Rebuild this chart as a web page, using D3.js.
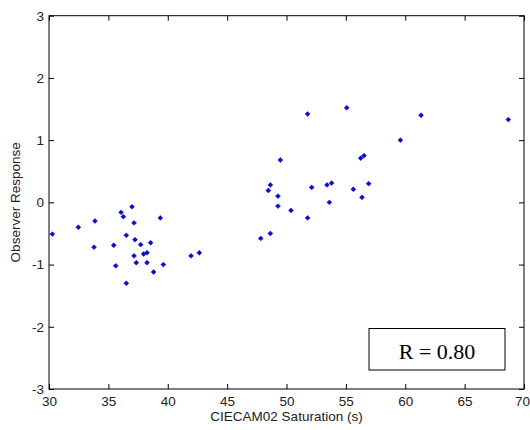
<!DOCTYPE html>
<html>
<head>
<meta charset="utf-8">
<script src="https://cdn.jsdelivr.net/npm/d3@7"></script>
<style>
  body { margin: 0; background: #fff; }
  svg { display: block; }
</style>
</head>
<body>
<svg id="viz"></svg>
<script>
// CIECAM02 saturation vs observer response
var satX = [30.28, 32.47, 33.87, 33.79, 35.45, 35.62, 36.07, 36.26, 36.99, 37.16,
	36.51, 37.24, 37.72, 37.16, 37.35, 36.51, 37.97, 38.25, 38.56, 38.25,
	38.81, 39.37, 39.63, 41.96, 42.66,
	47.83, 48.64, 48.47, 48.64, 49.28, 49.28, 49.48, 50.38, 51.78, 51.78,
	52.12, 53.41, 53.80, 53.61, 55.07, 55.63, 56.36, 56.25, 56.53, 56.92,
	59.59, 61.33, 68.68]
var responseY = [-0.51, -0.40, -0.30, -0.72, -0.69, -1.02, -0.16, -0.23, -0.07, -0.33,
	-0.53, -0.60, -0.68, -0.86, -0.97, -1.30, -0.83, -0.81, -0.65, -0.97,
	-1.12, -0.25, -1.00, -0.86, -0.81,
	-0.58, -0.50, 0.19, 0.28, 0.10, -0.06, 0.68, -0.13, 1.42, -0.25,
	0.24, 0.28, 0.31, 0.00, 1.52, 0.21, 0.08, 0.71, 0.75, 0.30,
	1.00, 1.40, 1.33]
var xTicks = [30, 35, 40, 45, 50, 55, 60, 65, 70]
var yTicks = [-3, -2, -1, 0, 1, 2, 3]
var xLabel = "CIECAM02 Saturation (s)"
var yLabel = "Observer Response"
var rText = "R = 0.80"

var width = 530;
var height = 430;
var pLeft = 49, pRight = 524, pTop = 15.7, pBottom = 389;

var svg = d3.select("#viz")
	.attr("width", width)
	.attr("height", height)

var scaleX = d3.scaleLinear().domain([30, 70]).range([pLeft, pRight])
var scaleY = d3.scaleLinear().domain([-3, 3]).range([pBottom, pTop])

var sans = "'Liberation Sans', Arial, sans-serif";

// frame
svg.append("rect")
	.attr("x", pLeft).attr("y", pTop)
	.attr("width", pRight - pLeft).attr("height", pBottom - pTop)
	.style("fill", "none").style("stroke", "#000").style("stroke-width", 1)

// ticks, all pointing inwards
function styleAxis(g){
	g.select(".domain").remove();
	g.selectAll("line").style("stroke", "#000");
	g.selectAll("text")
		.style("font-family", sans)
		.style("font-size", "13.5px")
		.style("fill", "#222");
}

svg.append("g")
	.attr("transform", "translate(0," + pBottom + ")")
	.call(d3.axisBottom(scaleX).tickValues(xTicks).tickSizeInner(-5).tickPadding(7))
	.call(styleAxis)
	.selectAll("text")
	.attr("dy", "0.71em").attr("y", 7)
	.attr("dx", d => d == 70 ? -2 : 0) // keep last label inside the window

svg.append("g")
	.attr("transform", "translate(0," + pTop + ")")
	.call(d3.axisTop(scaleX).tickValues(xTicks).tickSizeInner(-5).tickFormat(""))
	.call(styleAxis)

// matlab style labels use a plain hyphen for negatives
svg.append("g")
	.attr("transform", "translate(" + pLeft + ",0)")
	.call(d3.axisLeft(scaleY).tickValues(yTicks).tickSizeInner(-5).tickFormat(d => String(d)))
	.call(styleAxis)
	.selectAll("text").attr("x", -5)

svg.append("g")
	.attr("transform", "translate(" + pRight + ",0)")
	.call(d3.axisRight(scaleY).tickValues(yTicks).tickSizeInner(-5).tickFormat(""))
	.call(styleAxis)

// points
var points = satX.map((x, i) => ({x: x, y: responseY[i]}))
var marker = d3.symbol().type(d3.symbolDiamond2).size(15)

svg.selectAll(".pt")
	.data(points)
	.join("path")
	.attr("class", "pt")
	.attr("transform", d => "translate(" + scaleX(d.x) + "," + scaleY(d.y) + ")")
	.attr("d", marker)
	.style("fill", "#0a0ad2")
	.style("stroke", "#0a0ad2")
	.style("stroke-width", 0.6)

// axis labels
svg.append("text")
	.attr("x", (pLeft + pRight) / 2)
	.attr("y", 421)
	.attr("text-anchor", "middle")
	.style("font-family", sans)
	.style("font-size", "13.5px")
	.style("fill", "#222")
	.text(xLabel)

svg.append("text")
	.attr("transform", "translate(20," + (pTop + pBottom) / 2 + ") rotate(-90)")
	.attr("text-anchor", "middle")
	.style("font-family", sans)
	.style("font-size", "13.5px")
	.style("fill", "#222")
	.text(yLabel)

// correlation box
svg.append("rect")
	.attr("x", 369).attr("y", 328.5)
	.attr("width", 136).attr("height", 41.5)
	.style("fill", "#fff").style("stroke", "#000").style("stroke-width", 1)

svg.append("text")
	.attr("x", 437)
	.attr("y", 359)
	.attr("text-anchor", "middle")
	.style("font-family", "'Liberation Serif', 'Times New Roman', serif")
	.style("font-size", "22px")
	.style("fill", "#000")
	.text(rText)
</script>
</body>
</html>
